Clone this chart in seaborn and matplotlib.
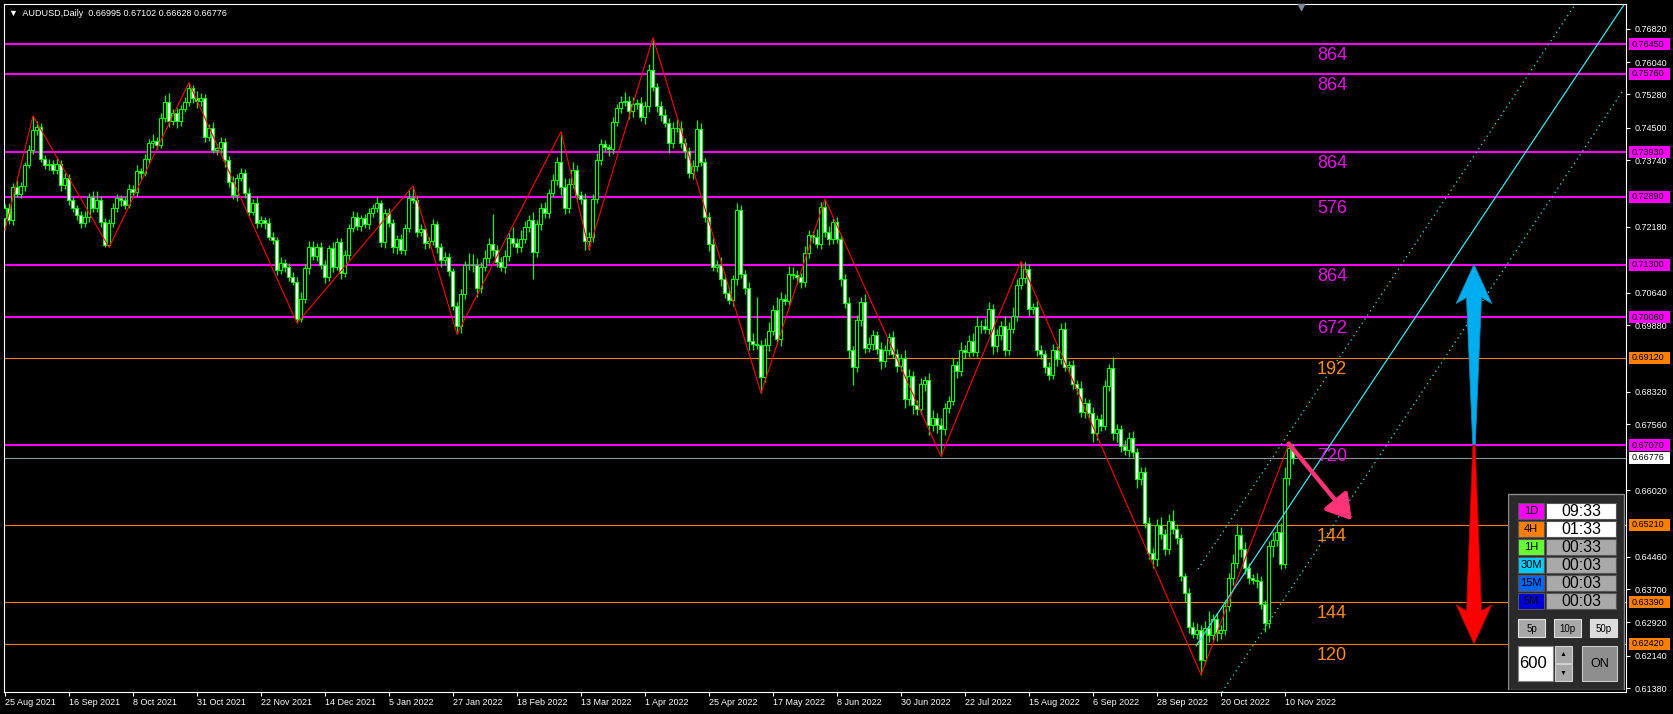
import numpy as np
import pandas as pd
import matplotlib
matplotlib.use('Agg')
import matplotlib.pyplot as plt
from matplotlib.patches import Rectangle, Polygon
import seaborn as sns

# ---- data (prices in pips, 1 pip = 0.0001) ----
first_open = 7240
closes = [
    7262, 7234, 7312, 7295, 7314, 7363, 7398, 7445, 7452, 7378,
    7363, 7365, 7351, 7366, 7316, 7333, 7281, 7262, 7245, 7227,
    7242, 7289, 7262, 7281, 7230, 7175, 7227, 7262, 7285, 7280,
    7270, 7306, 7300, 7349, 7345, 7377, 7414, 7418, 7410, 7473,
    7511, 7465, 7485, 7465, 7495, 7511, 7543, 7520, 7512, 7520,
    7429, 7450, 7398, 7402, 7417, 7374, 7324, 7293, 7333, 7344,
    7297, 7253, 7275, 7227, 7234, 7228, 7195, 7187, 7117, 7133,
    7125, 7101, 7090, 7003, 7050, 7122, 7172, 7150, 7170, 7130,
    7101, 7168, 7125, 7183, 7110, 7152, 7215, 7242, 7220, 7238,
    7225, 7250, 7262, 7274, 7183, 7250, 7228, 7170, 7190, 7165,
    7215, 7285, 7281, 7206, 7212, 7180, 7185, 7225, 7170, 7140,
    7148, 7114, 7033, 6985, 7060, 7128, 7128, 7130, 7075, 7125,
    7145, 7178, 7165, 7135, 7125, 7150, 7193, 7180, 7172, 7190,
    7218, 7234, 7160, 7225, 7262, 7250, 7297, 7328, 7370, 7312,
    7263, 7318, 7351, 7292, 7283, 7185, 7195, 7284, 7375, 7412,
    7405, 7400, 7464, 7496, 7510, 7513, 7490, 7505, 7508, 7475,
    7500, 7585, 7545, 7500, 7480, 7462, 7415, 7450, 7450, 7415,
    7395, 7345, 7360, 7448, 7370, 7242, 7177, 7125, 7130, 7095,
    7063, 7047, 7095, 7258, 7108, 7075, 6950, 6945, 6942, 6866,
    6942, 6975, 7023, 6955, 7050, 7045, 7108, 7105, 7100, 7088,
    7158, 7198, 7195, 7178, 7265, 7205, 7190, 7230, 7190, 7095,
    7040, 6930, 6890, 7000, 7043, 6935, 6945, 6965, 6933, 6905,
    6930, 6960, 6920, 6893, 6910, 6815, 6870, 6800, 6792, 6850,
    6860, 6755, 6770, 6755, 6745, 6795, 6810, 6895, 6880, 6930,
    6925, 6950, 6925, 6985, 6985, 6980, 7025, 6940, 6965, 6985,
    6930, 6980, 7010, 7082, 7098, 7120, 7025, 7030, 6930, 6920,
    6890, 6872, 6930, 6908, 6980, 6890, 6895, 6850, 6842, 6785,
    6805, 6782, 6735, 6768, 6752, 6845, 6888, 6735, 6745, 6705,
    6695, 6725, 6690, 6628, 6645, 6525, 6455, 6440, 6520, 6500,
    6465, 6530, 6510, 6490, 6400, 6360, 6282, 6265, 6275, 6205,
    6280, 6262, 6300, 6268, 6275, 6330, 6395, 6432, 6497, 6465,
    6420, 6395, 6392, 6388, 6335, 6290, 6471, 6485, 6505, 6430,
    6630, 6700, 6678,
]
upper_wick = [
    10, 12, 8, 15, 10, 8, 12, 33, 15, 10,
    8, 12, 10, 15, 8, 12, 10, 6, 8, 10,
    14, 8, 12, 20, 10, 8, 10, 12, 10, 8,
    10, 12, 10, 15, 8, 12, 10, 18, 10, 12,
    15, 20, 10, 12, 8, 10, 13, 8, 15, 12,
    10, 8, 14, 10, 12, 8, 10, 14, 8, 12,
    10, 12, 8, 14, 10, 8, 12, 10, 8, 15,
    10, 8, 12, 10, 15, 10, 12, 14, 10, 12,
    10, 8, 15, 10, 8, 12, 10, 14, 10, 8,
    10, 12, 10, 15, 8, 10, 12, 8, 10, 12,
    10, 20, 29, 10, 12, 8, 10, 12, 8, 10,
    12, 10, 8, 10, 12, 10, 30, 25, 15, 12,
    20, 15, 70, 10, 12, 15, 10, 25, 12, 20,
    15, 12, 20, 10, 12, 15, 10, 15, 12, 71,
    20, 15, 18, 12, 10, 15, 10, 12, 15, 12,
    10, 8, 12, 10, 15, 20, 12, 18, 10, 14,
    12, 15, 76, 10, 12, 15, 10, 14, 20, 15,
    12, 10, 15, 20, 14, 10, 12, 15, 10, 18,
    12, 15, 10, 15, 12, 10, 15, 20, 110, 12,
    15, 20, 12, 30, 15, 12, 18, 15, 12, 10,
    15, 12, 10, 18, 12, 18, 15, 10, 12, 10,
    12, 15, 10, 12, 10, 18, 15, 12, 10, 15,
    12, 10, 15, 12, 10, 20, 15, 10, 12, 15,
    10, 15, 20, 12, 15, 10, 12, 15, 10, 18,
    12, 15, 20, 25, 15, 20, 18, 12, 15, 12,
    25, 15, 20, 15, 39, 15, 12, 10, 15, 12,
    10, 12, 15, 10, 12, 15, 10, 12, 10, 15,
    12, 10, 15, 10, 12, 15, 10, 26, 12, 10,
    15, 12, 15, 10, 12, 10, 15, 12, 15, 20,
    12, 15, 25, 12, 10, 8, 12, 10, 15, 12,
    15, 40, 12, 15, 10, 15, 12, 20, 25, 18,
    15, 12, 10, 15, 12, 10, 12, 18, 15, 20,
    25, 11, 10,
]
lower_wick = [
    29, 10, 12, 8, 10, 12, 8, 10, 12, 8,
    10, 12, 8, 10, 15, 10, 12, 8, 10, 12,
    10, 12, 8, 10, 12, 5, 5, 10, 8, 12,
    10, 8, 12, 10, 15, 8, 10, 12, 10, 8,
    10, 12, 8, 15, 10, 8, 10, 12, 15, 10,
    12, 10, 8, 12, 10, 15, 12, 10, 14, 8,
    12, 10, 8, 12, 10, 14, 8, 10, 12, 10,
    12, 10, 8, 10, 8, 10, 14, 10, 12, 10,
    15, 10, 12, 8, 14, 10, 12, 8, 10, 12,
    10, 12, 8, 10, 12, 14, 10, 12, 15, 10,
    12, 10, 8, 12, 10, 14, 12, 10, 12, 15,
    10, 12, 10, 18, 15, 10, 12, 15, 20, 12,
    10, 12, 15, 12, 10, 15, 12, 10, 15, 12,
    10, 12, 64, 12, 15, 10, 12, 10, 12, 20,
    15, 12, 10, 15, 12, 20, 20, 12, 10, 12,
    10, 15, 12, 10, 12, 10, 20, 15, 12, 10,
    15, 12, 10, 12, 15, 10, 25, 12, 10, 12,
    15, 12, 15, 12, 10, 12, 15, 10, 12, 15,
    12, 10, 15, 12, 10, 15, 20, 15, 10, 37,
    12, 15, 10, 12, 15, 10, 12, 10, 15, 12,
    10, 12, 15, 10, 12, 10, 15, 12, 10, 15,
    12, 20, 42, 12, 15, 12, 10, 15, 12, 20,
    15, 12, 10, 15, 12, 20, 15, 20, 15, 12,
    15, 25, 15, 20, 64, 15, 12, 10, 15, 12,
    15, 12, 10, 12, 15, 10, 12, 20, 15, 12,
    15, 12, 10, 12, 10, 12, 15, 12, 15, 12,
    15, 12, 10, 15, 12, 10, 15, 12, 15, 12,
    15, 12, 20, 15, 12, 10, 12, 15, 20, 15,
    12, 15, 10, 20, 15, 12, 15, 20, 15, 12,
    15, 12, 10, 15, 12, 20, 15, 10, 12, 35,
    10, 15, 12, 20, 15, 12, 10, 15, 12, 20,
    15, 12, 10, 15, 12, 20, 12, 25, 15, 12,
    10, 15, 15,
]
assert len(closes) == len(upper_wick) == len(lower_wick)

date_labels = ['25 Aug 2021', '16 Sep 2021', '8 Oct 2021', '31 Oct 2021', '22 Nov 2021',
               '14 Dec 2021', '5 Jan 2022', '27 Jan 2022', '18 Feb 2022', '13 Mar 2022',
               '1 Apr 2022', '25 Apr 2022', '17 May 2022', '8 Jun 2022', '30 Jun 2022',
               '22 Jul 2022', '15 Aug 2022', '6 Sep 2022', '28 Sep 2022', '20 Oct 2022',
               '10 Nov 2022']
date_step = 16

zigzag_bars = [0, 7, 26, 46, 73, 102, 113, 139, 146, 162, 189, 205, 234, 254, 299, 321]
zigzag_prices = [0.7211, 0.7478, 0.7170, 0.7556, 0.6993, 0.7314, 0.6967, 0.7441,
                 0.7165, 0.7661, 0.6829, 0.7283, 0.6681, 0.7137, 0.6170, 0.6711]

magenta_levels = [0.7645, 0.7576, 0.7393, 0.7289, 0.7130, 0.7006, 0.6707]
magenta_counts = ['864', '864', '864', '576', '864', '672', '720']
orange_levels = [0.6912, 0.6521, 0.6339, 0.6242]
orange_counts = ['192', '144', '144', '120']
last_price = 0.66776

price_ticks = [0.76820, 0.76040, 0.75280, 0.74500, 0.73740, 0.72180, 0.70640, 0.69880,
               0.68320, 0.67560, 0.66020, 0.64460, 0.63700, 0.62920, 0.62140, 0.61380]

channel_mid_bars, channel_mid = [297.75, 404.75], [0.6237, 0.7738]
channel_up_bars, channel_up = [298.25, 392.5], [0.6417, 0.7738]
channel_dn_bars, channel_dn = [304.25, 404.75], [0.6129, 0.7541]

label_bar = 331.75          # where the level counts sit
arrow_bar = 367.25          # blue / red target arrows
arrow_base = 0.6707
up_target, down_target = 0.7130, 0.6242
pink_from, pink_to = (320.9, 0.6711), (336.75, 0.6531)
shift_bar = 324

timer_frames = ['1D', '4H', '1H', '30M', '15M', '5M']
timer_values = ['09:33', '01:33', '00:33', '00:03', '00:03', '00:03']
timer_colors = ['#ff00ff', '#ff7f00', '#66ff33', '#00ccff', '#0066ff', '#0000dd']
timer_bg = ['white', 'white', '#a9a9a9', '#a9a9a9', '#a9a9a9', '#a9a9a9']

# ---- candles ----
c = np.array(closes) / 1e4
o = np.r_[first_open, closes[:-1]] / 1e4
df = pd.DataFrame({'bar': np.arange(len(c)), 'open': o, 'close': c})
df['high'] = np.maximum(df.open, df.close) + np.array(upper_wick) / 1e4
df['low'] = np.minimum(df.open, df.close) - np.array(lower_wick) / 1e4

sns.set_theme(style='dark', rc={'axes.facecolor': 'black', 'figure.facecolor': 'black'})
plt.rcParams['font.family'] = ['Liberation Sans', 'DejaVu Sans']

W, H = 1674, 714
fig = plt.figure(figsize=(W / 100, H / 100), dpi=100)
ax = fig.add_axes([4 / W, 22 / H, 1622 / W, 688 / H])
ax.set_facecolor('black')
ax.set_xlim(-0.25, 405.25)
ax.set_ylim(0.61293, 0.77398)
px_x = 405.5 / 1622
px_y = (0.77398 - 0.61293) / 688
LIME = '#00ff00'
MAG = '#ff00ff'
ORG = '#ff7f00'

for lv in magenta_levels:
    ax.axhline(lv, color=MAG, lw=1.5, zorder=2)
for lv in orange_levels:
    ax.axhline(lv, color=ORG, lw=0.8, zorder=2)
ax.axhline(last_price, color='#8c969f', lw=0.8, zorder=2)

ax.vlines(df.bar, df.low, df.high, color=LIME, lw=0.9, zorder=3)
up = df.close >= df.open
ax.bar(df.bar, (df.close - df.open).abs(), bottom=np.minimum(df.open, df.close), width=0.75,
       color=np.where(up, 'black', 'white'), edgecolor=LIME, linewidth=0.8, zorder=4)

sns.lineplot(x=zigzag_bars, y=zigzag_prices, ax=ax, color='red', lw=0.8, zorder=5)
sns.lineplot(x=channel_mid_bars, y=channel_mid, ax=ax, color='#3fe3f0', lw=0.9, zorder=5)
sns.lineplot(x=channel_up_bars, y=channel_up, ax=ax, color='#3fe3f0', lw=0.9, ls=(0, (1, 3)), zorder=5)
sns.lineplot(x=channel_dn_bars, y=channel_dn, ax=ax, color='#3fe3f0', lw=0.9, ls=(0, (1, 3)), zorder=5)

# level counts
for lv, t in zip(magenta_levels, magenta_counts):
    ax.annotate(t, (label_bar, lv), xytext=(0, -3), textcoords='offset pixels', ha='center',
                va='top', fontsize=13, color='#e414e4', zorder=6)
for lv, t in zip(orange_levels, orange_counts):
    ax.annotate(t, (label_bar, lv), xytext=(0, -3), textcoords='offset pixels', ha='center',
                va='top', fontsize=13, color='#ff8a1c', zorder=6)

# target arrows (shape given in screen pixels around the tip)
def tapered_arrow(tip, base, color, edge):
    sign = 1 if tip > base else -1
    L = abs(tip - base) / px_y
    pts = [(0, 0), (17.8, 39), (7.5, 33), (1.2, L), (-1.2, L), (-7.5, 33), (-17.8, 39)]
    xy = [(arrow_bar + dx * px_x, tip - sign * dy * px_y) for dx, dy in pts]
    ax.add_patch(Polygon(xy, closed=True, fc=color, ec=edge, lw=0.6, zorder=7))

tapered_arrow(up_target, arrow_base, '#00aeef', '#0a8cc0')
tapered_arrow(down_target, arrow_base, '#ff0000', '#b00000')

ax.annotate('', xy=pink_to, xytext=pink_from,
            arrowprops=dict(arrowstyle='-|>,head_length=1.5,head_width=0.9', lw=3.2,
                            color='#ff3377', mutation_scale=10, shrinkA=0, shrinkB=0),
            zorder=7)

ax.plot([shift_bar], [1 - 3 / 688], transform=ax.get_xaxis_transform(), marker='v', ms=5,
        color='#7d8894', clip_on=False, zorder=8)

# axes / ticks
ax.grid(False)
for s in ax.spines.values():
    s.set_color('white')
    s.set_linewidth(0.8)
ax.yaxis.tick_right()
ax.set_yticks(price_ticks)
ax.set_yticklabels([f'{p:.5f}' for p in price_ticks])
ax.set_xticks(np.arange(0, date_step * len(date_labels), date_step))
ax.set_xticklabels(date_labels, ha='left')
ax.tick_params(axis='y', colors='white', length=3, width=0.8, pad=3, labelsize=6.5,
               right=True, left=False)
ax.tick_params(axis='x', colors='white', length=3, width=0.8, pad=1.5, labelsize=6.5, bottom=True)
ax.set_xlabel('')
ax.set_ylabel('')

# price boxes on the axis
ytr = ax.get_yaxis_transform()
boxes = [(lv, MAG) for lv in magenta_levels] + [(lv, ORG) for lv in orange_levels] + [(last_price, 'white')]
for lv, col in boxes:
    ax.add_patch(Rectangle((1 + 3 / 1622, lv - 6 * px_y), 41 / 1622, 12 * px_y, transform=ytr,
                           fc=col, ec='none', clip_on=False, zorder=9))
    ax.text(1 + 6 / 1622, lv, f'{lv:.5f}', transform=ytr, ha='left', va='center',
            fontsize=6.5, color='black', clip_on=False, zorder=10)

fig.text(9 / W, 1 - 13 / H, '\u25bc  AUDUSD,Daily  0.66995 0.67102 0.66628 0.66776',
         color='white', fontsize=6.5, va='center', ha='left')

# timer panel
pan = fig.add_axes([1508 / W, (H - 690) / H, 117 / W, 197 / H])
pan.set_xlim(0, 117)
pan.set_ylim(197, 0)
pan.axis('off')
pan.add_patch(Rectangle((0.5, 0.5), 116, 196, fc='#2a2a2a', ec='#8a8a8a', lw=1))
for i, (fr, val, col, bg) in enumerate(zip(timer_frames, timer_values, timer_colors, timer_bg)):
    top = 10 + 17.9 * i
    pan.add_patch(Rectangle((10, top), 26, 16, fc=col, ec='#555555', lw=0.8))
    pan.text(23, top + 8.5, fr, ha='center', va='center', fontsize=8, color='black')
    pan.add_patch(Rectangle((38, top), 70, 16, fc=bg, ec='#555555', lw=0.8))
    pan.text(73, top + 8.5, val, ha='center', va='center', fontsize=11.5, color='black')
for x0, t, bg in [(10, '5p', '#a8a8a8'), (46, '10p', '#a8a8a8'), (82, '50p', '#dcdcdc')]:
    pan.add_patch(Rectangle((x0, 126), 27, 18, fc=bg, ec='#e0e0e0', lw=0.8))
    pan.text(x0 + 13.5, 135.5, t, ha='center', va='center', fontsize=7, color='black')
pan.add_patch(Rectangle((10, 153), 35, 35, fc='white', ec='#888888', lw=0.8))
pan.text(11, 171, '600', ha='left', va='center', fontsize=12, color='black')
pan.add_patch(Rectangle((47, 153), 17, 17, fc='#a8a8a8', ec='#d0d0d0', lw=0.8))
pan.add_patch(Rectangle((47, 171), 17, 17, fc='#a8a8a8', ec='#d0d0d0', lw=0.8))
pan.text(55.5, 162, '\u25b2', ha='center', va='center', fontsize=5, color='black')
pan.text(55.5, 180, '\u25bc', ha='center', va='center', fontsize=5, color='black')
pan.add_patch(Rectangle((74, 153), 35, 35, fc='#8e8e8e', ec='#c8c8c8', lw=0.8))
pan.text(91.5, 171, 'ON', ha='center', va='center', fontsize=9, color='black')

fig.savefig('out.png', dpi=100, facecolor='black')
